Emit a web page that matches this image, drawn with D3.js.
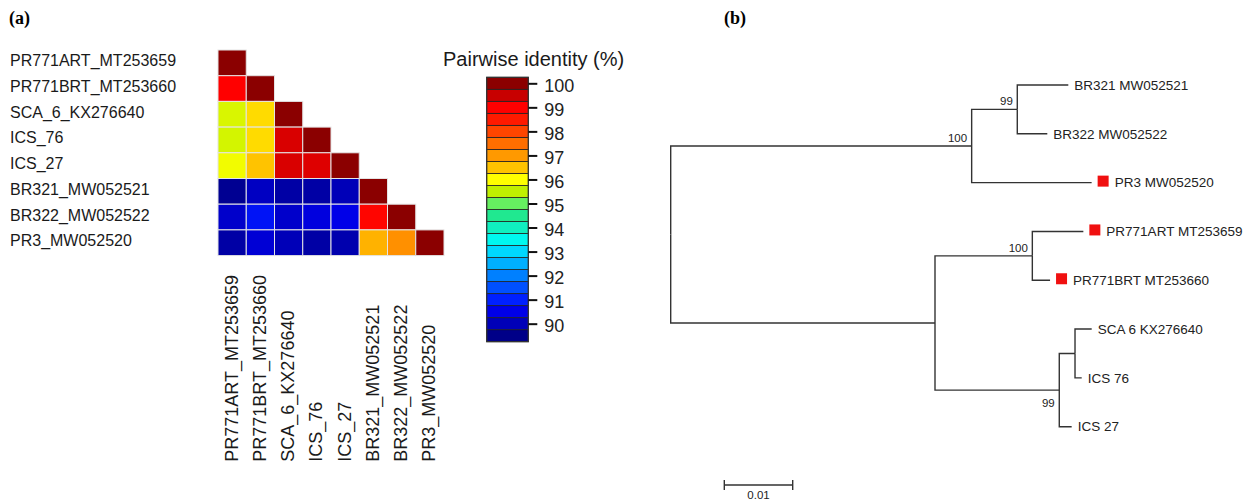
<!DOCTYPE html>
<html>
<head>
<meta charset="utf-8">
<script src="https://cdn.jsdelivr.net/npm/d3@7"></script>
<style>
  body { margin: 0; background: #fff; }
  text { font-family: "Liberation Sans", Arial, sans-serif; }
  .panel { font-family: "Liberation Serif", "DejaVu Serif", serif; font-weight: bold; }
</style>
</head>
<body>
<div id="chart"></div>
<script>
// ---- data (a): pairwise identity heatmap
const seqNames = ["PR771ART_MT253659", "PR771BRT_MT253660", "SCA_6_KX276640", "ICS_76",
  "ICS_27", "BR321_MW052521", "BR322_MW052522", "PR3_MW052520"];
// lower triangle, row by row (%)
const identity = [
  [100],
  [99.0, 100],
  [95.7, 96.3, 100],
  [95.65, 96.3, 99.35, 100],
  [95.9, 96.5, 99.35, 99.3, 100],
  [89.6, 90.1, 89.8, 89.8, 90.0, 100],
  [90.2, 90.8, 90.2, 90.4, 90.5, 98.9, 100],
  [89.8, 90.3, 90.0, 89.8, 89.9, 96.7, 97.1, 100]
];
// legend bands, bottom to top
const legendValues = [89.5, 90, 90.5, 91, 91.5, 92, 92.5, 93, 93.5, 94, 94.5,
  95, 95.5, 96, 96.5, 97, 97.5, 98, 98.5, 99, 99.5, 100];
const legendColors = ["#000088", "#0000b8", "#0000e8", "#0020ff", "#0050ff", "#0080ff",
  "#00b0ff", "#00d8ff", "#00f8f0", "#10f0c0", "#20e890", "#66f060", "#c0f000", "#ffff00",
  "#ffc300", "#ff9900", "#ff6e00", "#ff4500", "#ff1a00", "#ff0000", "#c80000", "#8b0000"];
const legendTicks = [90, 91, 92, 93, 94, 95, 96, 97, 98, 99, 100];

// ---- data (b): neighbour-joining tree
const treeNodes = ["root", "A", "B", "BR321 MW052521", "BR322 MW052522", "PR3 MW052520",
  "C", "D", "PR771ART MT253659", "PR771BRT MT253660", "E", "F", "SCA 6 KX276640", "ICS 76", "ICS 27"];
const treeParents = ["", "root", "A", "B", "B", "A", "root", "C", "D", "D", "C", "E", "F", "F", "E"];
const branchLengths = [0, 0.0440, 0.00667, 0.00746, 0.00439, 0.01754, 0.03864, 0.01423,
  0.00746, 0.00259, 0.01817, 0.0023, 0.00244, 0.00098, 0.00181];
const bootstrap = [null, 100, 99, null, null, null, null, 100, null, null, 99, null, null, null, null];
const markedLeaves = ["PR3 MW052520", "PR771ART MT253659", "PR771BRT MT253660"];
const scaleBarLength = 0.01;

const W = 1250, H = 501;
const svg = d3.select('#chart').append('svg')
  .attr('width', W).attr('height', H);
svg.append('rect').attr('width', W).attr('height', H).attr('fill', '#fff');

// panel letters
svg.append('text').attr('class', 'panel').attr('x', 9).attr('y', 24)
  .style('font-size', '18px').text('(a)');
svg.append('text').attr('class', 'panel').attr('x', 724).attr('y', 24)
  .style('font-size', '18px').text('(b)');

// ---------- heatmap
const x = d3.scaleBand().domain(seqNames).range([218, 444]);
const y = d3.scaleBand().domain(seqNames).range([50, 255.6]);
const color = d3.scaleLinear().domain(legendValues).range(legendColors).clamp(true);

const cells = [];
identity.forEach((row, i) => row.forEach((v, j) => cells.push({r: seqNames[i], c: seqNames[j], v: v})));

svg.append('g').selectAll('rect').data(cells).join('rect')
  .attr('x', d => x(d.c)).attr('y', d => y(d.r))
  .attr('width', x.bandwidth()).attr('height', y.bandwidth())
  .attr('fill', d => color(d.v))
  .attr('stroke', '#e4e4e4').attr('stroke-width', 1);

svg.append('g').selectAll('text').data(seqNames).join('text')
  .attr('x', 10).attr('y', d => y(d) + y.bandwidth() / 2 + 3.5)
  .style('font-size', '16px').attr('fill', '#1a1a1a')
  .text(d => d);

svg.append('g').selectAll('text').data(seqNames).join('text')
  .attr('transform', d => `translate(${x(d) + x.bandwidth() / 2 + 5.5},461.7) rotate(-90)`)
  .style('font-size', '18px').attr('fill', '#1a1a1a')
  .text(d => d);

// legend
const yLeg = d3.scaleLinear().domain([89.25, 100.25]).range([341.7, 77.3]);
const legX = 486.7, legW = 41.6;
svg.append('g').selectAll('rect').data(legendValues).join('rect')
  .attr('x', legX).attr('y', d => yLeg(d + 0.25))
  .attr('width', legW).attr('height', d => yLeg(d - 0.25) - yLeg(d + 0.25))
  .attr('fill', (d, i) => legendColors[i])
  .attr('stroke', '#222').attr('stroke-width', 0.8);
svg.append('rect').attr('x', legX).attr('y', yLeg(100.25))
  .attr('width', legW).attr('height', yLeg(89.25) - yLeg(100.25))
  .attr('fill', 'none').attr('stroke', '#333').attr('stroke-width', 1.2);

const legAxis = svg.append('g')
  .attr('transform', `translate(${legX + legW},0)`)
  .call(d3.axisRight(yLeg).tickValues(legendTicks).tickSize(9).tickPadding(7));
legAxis.select('.domain').remove();
legAxis.selectAll('line').attr('stroke', '#111').attr('stroke-width', 2);
legAxis.selectAll('text').style('font-size', '18px').attr('fill', '#222')
  .attr('font-family', '"Liberation Sans", Arial, sans-serif').attr('dy', '0.45em');

svg.append('text').attr('x', 443).attr('y', 66)
  .style('font-size', '20px').attr('fill', '#1a1a1a')
  .text('Pairwise identity (%)');

// ---------- tree
const table = treeNodes.map((id, i) => ({id: id, parent: treeParents[i] || null,
  len: branchLengths[i], boot: bootstrap[i]}));
const root = d3.stratify().id(d => d.id).parentId(d => d.parent)(table);
d3.cluster().nodeSize([1, 1]).separation(() => 1)(root);
root.eachBefore(n => { n.dist = (n.parent ? n.parent.dist : 0) + n.data.len; });

const leafX = d3.extent(root.leaves(), d => d.x);
const ty = d3.scaleLinear().domain(leafX).range([85, 426.7]);
const tx = d3.scaleLinear().domain([0, scaleBarLength]).range([670.7, 739.1]);

const tree = svg.append('g');
tree.selectAll('path').data(root.descendants().slice(1)).join('path')
  .attr('d', d => `M${tx(d.parent.dist)},${ty(d.parent.x)}V${ty(d.x)}H${tx(d.dist)}`)
  .attr('fill', 'none').attr('stroke', '#333').attr('stroke-width', 1.4);

const leaves = root.leaves();
tree.selectAll('rect.mark').data(leaves.filter(d => markedLeaves.includes(d.id))).join('rect')
  .attr('class', 'mark')
  .attr('x', d => tx(d.dist) + 6).attr('y', d => ty(d.x) - 7)
  .attr('width', 11).attr('height', 11).attr('fill', '#f01010');

tree.selectAll('text.leaf').data(leaves).join('text')
  .attr('class', 'leaf')
  .attr('x', d => tx(d.dist) + (markedLeaves.includes(d.id) ? 23 : 6))
  .attr('y', d => ty(d.x)).attr('dy', '0.35em')
  .style('font-size', '13.5px').attr('fill', '#222')
  .text(d => d.id);

// bootstrap support: placed above the stem, except the ICS clade (below)
tree.selectAll('text.boot').data(root.descendants().filter(d => d.data.boot != null)).join('text')
  .attr('class', 'boot')
  .attr('x', d => tx(d.dist) - 4.5)
  .attr('y', d => ty(d.x) + (d.id === 'E' ? 16.5 : -4.3))
  .attr('text-anchor', 'end')
  .style('font-size', '11.5px').attr('fill', '#222')
  .text(d => d.data.boot);

// scale bar
const sbX = 724.3, sbY = 485;
const sbW = tx(scaleBarLength) - tx(0);
svg.append('path')
  .attr('d', `M${sbX},${sbY - 5}V${sbY + 5}M${sbX},${sbY}H${sbX + sbW}M${sbX + sbW},${sbY - 5}V${sbY + 5}`)
  .attr('fill', 'none').attr('stroke', '#333').attr('stroke-width', 1.4);
svg.append('text').attr('x', sbX + sbW / 2).attr('y', 499)
  .attr('text-anchor', 'middle').style('font-size', '11.5px').attr('fill', '#222')
  .text(scaleBarLength);
</script>
</body>
</html>
